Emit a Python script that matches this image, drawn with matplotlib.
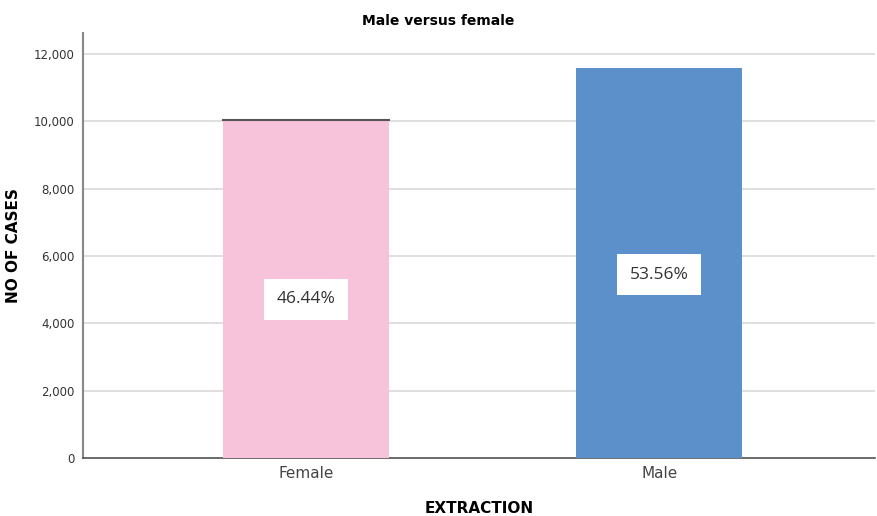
import matplotlib.pyplot as plt
from matplotlib.ticker import FuncFormatter

# counts per sex and their share of cases
categories = ['Female', 'Male']
cases = [10040, 11580]
shares = ['46.44%', '53.56%']
colors = ['#F7C3DA', '#5C90CA']

fig = plt.figure(figsize=(8.77, 5.16), dpi=100)
ax = fig.add_axes([0.0946, 0.1124, 0.9031, 0.8236])

x = range(len(categories))
bars = ax.bar(x, cases, width=0.47, color=colors, zorder=3)

# dark rim along the top of the female bar
ax.plot([bars[0].get_x(), bars[0].get_x() + bars[0].get_width()],
        [cases[0], cases[0]], color='#555555', lw=1.5, zorder=4)

for b, s in zip(bars, shares):
    ax.text(b.get_x() + b.get_width() / 2, b.get_height() * 0.47, s,
            ha='center', va='center', fontsize=12.5, color='#333333',
            family='Open Sans', zorder=5,
            bbox=dict(boxstyle='square,pad=0.72', fc='white', ec='none'))

ax.set_xlim(-0.63, 1.61)
ax.set_ylim(0, 12620)
ax.set_yticks(range(0, 12001, 2000))
ax.yaxis.set_major_formatter(FuncFormatter(lambda v, p: f'{int(v):,}'))
ax.set_xticks(list(x))
ax.set_xticklabels(categories, fontsize=11, color='#444444')
ax.tick_params(axis='y', labelsize=8.5, colors='#333333', length=0, pad=6)
ax.tick_params(axis='x', length=0, pad=6)

ax.grid(axis='y', color='#D9D9D9', lw=1.2, zorder=0)
for side in ['top', 'right']:
    ax.spines[side].set_visible(False)
ax.spines['left'].set_color('#888888')
ax.spines['left'].set_linewidth(1.5)
ax.spines['bottom'].set_color('#555555')
ax.spines['bottom'].set_linewidth(1.2)

fig.suptitle('Male versus female', x=0.5, y=0.972, fontsize=10, fontweight='bold')
ax.set_ylabel('NO OF CASES', fontsize=11, fontweight='bold', labelpad=9)
ax.set_xlabel('EXTRACTION', fontsize=11, fontweight='bold', labelpad=14)

fig.savefig('out.png', dpi=100)
